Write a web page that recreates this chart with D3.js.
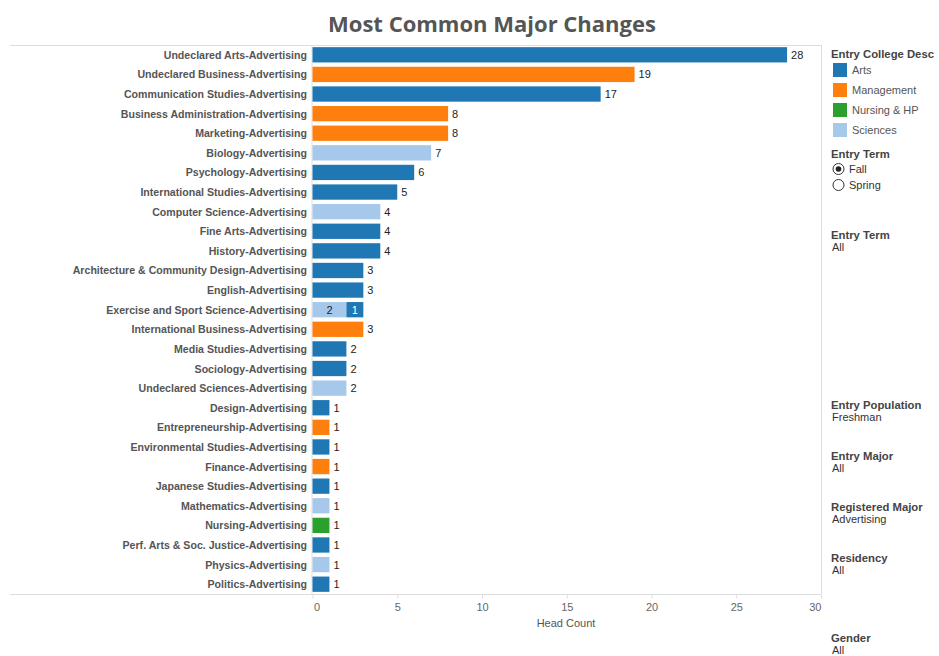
<!DOCTYPE html>
<html><head><meta charset="utf-8">
<script src="https://cdn.jsdelivr.net/npm/d3@7"></script>
<style>body{margin:0;background:#fff;} text{font-family:Arial,"Liberation Sans",sans-serif;}</style>
</head><body><svg id="c" width="939" height="656"></svg>
<script>
const categories = ["Undeclared Arts-Advertising","Undeclared Business-Advertising","Communication Studies-Advertising","Business Administration-Advertising","Marketing-Advertising","Biology-Advertising","Psychology-Advertising","International Studies-Advertising","Computer Science-Advertising","Fine Arts-Advertising","History-Advertising","Architecture & Community Design-Advertising","English-Advertising","Exercise and Sport Science-Advertising","International Business-Advertising","Media Studies-Advertising","Sociology-Advertising","Undeclared Sciences-Advertising","Design-Advertising","Entrepreneurship-Advertising","Environmental Studies-Advertising","Finance-Advertising","Japanese Studies-Advertising","Mathematics-Advertising","Nursing-Advertising","Perf. Arts & Soc. Justice-Advertising","Physics-Advertising","Politics-Advertising"];
const sciences   = [0,0,0,0,0,7,0,0,4,0,0,0,0,2,0,0,0,2,0,0,0,0,0,1,0,0,1,0];
const arts       = [28,0,17,0,0,0,6,5,0,4,4,3,3,1,0,2,2,0,1,0,1,0,1,0,0,1,0,1];
const management = [0,19,0,8,8,0,0,0,0,0,0,0,0,0,3,0,0,0,0,1,0,1,0,0,0,0,0,0];
const nursing    = [0,0,0,0,0,0,0,0,0,0,0,0,0,0,0,0,0,0,0,0,0,0,0,0,1,0,0,0];
const legendLabels = ["Arts","Management","Nursing & HP","Sciences"];
const xTicks = [0,5,10,15,20,25,30];
const filters = [["Entry Term","All"],["Entry Population","Freshman"],["Entry Major","All"],["Registered Major","Advertising"],["Residency","All"],["Gender","All"]];

const colorMap = {"Arts":"#1f77b4","Management":"#ff7f0e","Nursing & HP":"#2ca02c","Sciences":"#a6c8ea"};
const rows = categories.map((c,i)=>({cat:c,"Sciences":sciences[i],"Arts":arts[i],"Management":management[i],"Nursing & HP":nursing[i]}));
const keys = ["Sciences","Arts","Management","Nursing & HP"];
const stack = d3.stack().keys(keys)(rows);

const svg = d3.select("#c");
const x = d3.scaleLinear().domain([0,30]).range([312.5,821]);
const y = d3.scaleBand().domain(categories).range([45,594]).paddingInner(0.22).paddingOuter(0.11);

// title
svg.append("text").attr("x",492).attr("y",32).attr("text-anchor","middle")
  .attr("font-size",22).attr("font-weight","bold").attr("fill","#555")
  .style("font-family","'Open Sans',sans-serif").text("Most Common Major Changes");

// frame
svg.append("line").attr("x1",10).attr("x2",821).attr("y1",45.5).attr("y2",45.5).attr("stroke","#ddd");
svg.append("line").attr("x1",821.5).attr("x2",821.5).attr("y1",45).attr("y2",594).attr("stroke","#ddd");
svg.append("line").attr("x1",10).attr("x2",821).attr("y1",594.5).attr("y2",594.5).attr("stroke","#ddd");
svg.append("line").attr("x1",x(0)-0.5).attr("x2",x(0)-0.5).attr("y1",45).attr("y2",594).attr("stroke","#ddd");

// bars
svg.append("g").selectAll("g").data(stack).join("g").attr("fill",d=>colorMap[d.key])
  .selectAll("rect").data(d=>d.map(v=>({v,key:d.key}))).join("rect")
  .filter(d=>d.v[1]-d.v[0]>0)
  .attr("x",d=>x(d.v[0])).attr("width",d=>x(d.v[1])-x(d.v[0]))
  .attr("y",d=>y(d.v.data.cat)).attr("height",y.bandwidth());

// value labels
rows.forEach(r=>{
  const segs = keys.filter(k=>r[k]>0);
  const total = d3.sum(keys,k=>r[k]);
  if(segs.length===1){
    svg.append("text").attr("x",x(total)+4).attr("y",y(r.cat)+y.bandwidth()/2+4)
      .attr("font-size",11).attr("fill","#222").text(total);
  } else {
    let acc=0;
    segs.forEach(k=>{
      svg.append("text").attr("x",x(acc+r[k]/2)).attr("y",y(r.cat)+y.bandwidth()/2+4)
        .attr("text-anchor","middle").attr("font-size",11)
        .attr("fill",k==="Arts"?"#fff":"#222").text(r[k]);
      acc+=r[k];
    });
  }
});

// category labels
svg.append("g").selectAll("text").data(categories).join("text")
  .attr("x",307).attr("y",d=>y(d)+y.bandwidth()/2+4).attr("text-anchor","end")
  .attr("font-size",10.6).attr("font-weight","bold").attr("fill","#555").text(d=>d);

// x axis
const ax = svg.append("g").attr("transform","translate(0,594.5)")
  .call(d3.axisBottom(x).tickValues(xTicks).tickSize(4).tickFormat(d3.format("d")));
ax.select(".domain").remove();
ax.selectAll("line").attr("stroke","#ddd");
ax.selectAll("text").attr("font-size",11).attr("fill","#666").attr("dy","0.9em")
  .style("font-family","Arial,'Liberation Sans',sans-serif")
  .attr("text-anchor",d=>d===30?"end":"middle").attr("dx",d=>d===0?4:0);
svg.append("text").attr("x",566).attr("y",627).attr("text-anchor","middle")
  .attr("font-size",11).attr("fill","#555").text("Head Count");

// legend
const lg = svg.append("g");
lg.append("text").attr("x",831).attr("y",58).attr("font-size",11.3).attr("font-weight","bold").attr("fill","#444").text("Entry College Desc");
legendLabels.forEach((l,i)=>{
  lg.append("rect").attr("x",833).attr("y",63+i*20).attr("width",14).attr("height",14).attr("fill",colorMap[l]);
  lg.append("text").attr("x",852).attr("y",74+i*20).attr("font-size",11).attr("fill","#555").text(l);
});
lg.append("text").attr("x",831).attr("y",158).attr("font-size",11.3).attr("font-weight","bold").attr("fill","#444").text("Entry Term");
["Fall","Spring"].forEach((t,i)=>{
  lg.append("circle").attr("cx",838.5).attr("cy",169+i*16).attr("r",5.5).attr("fill","#fff").attr("stroke","#333");
  if(i===0) lg.append("circle").attr("cx",838.5).attr("cy",169).attr("r",2.8).attr("fill","#222");
  lg.append("text").attr("x",849).attr("y",173+i*16).attr("font-size",11).attr("fill","#333").text(t);
});
const fy = [239,409,460,511,562,642];
filters.forEach((f,i)=>{
  lg.append("text").attr("x",831).attr("y",fy[i]).attr("font-size",11.3).attr("font-weight","bold").attr("fill","#444").text(f[0]);
  lg.append("text").attr("x",832).attr("y",fy[i]+12).attr("font-size",11).attr("fill","#333").text(f[1]);
});
</script></body></html>
